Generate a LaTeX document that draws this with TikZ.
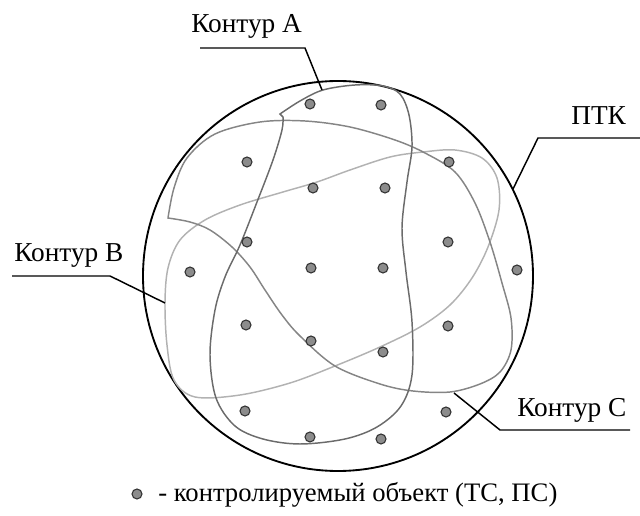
\documentclass[tikz,border=0pt]{standalone}
\usepackage{fontspec}
\setmainfont{Liberation Serif}
\begin{document}
\begin{tikzpicture}[x=0.75pt,y=-0.75pt,
  contA/.style={draw=black!58, line width=1.1pt},
  contB/.style={draw=black!30, line width=1.1pt},
  contC/.style={draw=black!48, line width=1.1pt},
  leader/.style={draw=black, line width=1.1pt},
  obj/.style={circle, fill=black!45, draw=black!80, line width=0.8pt, minimum size=7.5pt, inner sep=0pt},
  lbl/.style={anchor=base west, inner sep=0pt, font=\fontsize{20.5}{23}\selectfont},
  legtxt/.style={anchor=base west, inner sep=0pt, font=\fontsize{20}{23}\selectfont}]
\useasboundingbox (0,0) rectangle (640,516);

% big circle (PTK)
\node[circle, draw=black, line width=1.4pt, minimum size=292.5pt, inner sep=0pt] (ptk) at (338,276) {};

% Contour B (light)
\draw[contB] plot[smooth cycle, tension=0.55] coordinates {
 (165,303) (167,345) (174,380) (195,397) (240,395) (290,383) (335,366)
 (380,347) (420,327) (450,305) (472,278) (488,247) (499,210) (497,178)
 (482,158) (455,150) (423,152) (390,157) (350,170) (317,182) (283,192)
 (240,205) (205,220) (180,240) (168,268)};

% Contour C (medium)
\draw[contC] plot[smooth, tension=0.55] coordinates {
 (168,218) (174,188) (187,158) (215,134) (260,122) (305,121) (350,127)
 (395,140) (425,153) (455,172) (475,203) (490,242) (502,283) (511,318)
 (511,350) (500,372) (480,384) (450,392) (413,391) (380,384) (335,366)
 (300,336) (282,315) (265,290) (250,267) (232,247) (210,230) (190,222) (168,218)} -- cycle;

% Contour A (darker)
\draw[contA] plot[smooth, tension=0.55] coordinates {
 (280,114) (300,101) (323,90) (355,85) (383,86) (400,94) (409,115)
 (412,147) (407,182) (402,228) (406,272) (412,322) (412,375) (401,406)
 (377,427) (345,439) (300,444) (263,439) (235,426) (216,398) (210,355)
 (215,310) (225,277) (240,245) (257,202) (273,160) (282,130) (283,117)} -- cycle;

% controlled objects
\foreach \x/\y [count=\i] in {310/104, 381/105, 247/162, 449/162, 313/188, 385/188,
  247/242, 448/242, 190/272, 311/268, 383/268, 517/270, 246/325, 448/326,
  311/341, 383/352, 245/411, 446/412, 310/437, 381/439}
  \node[obj] (o\i) at (\x,\y) {};

% labels and leaders
\node[lbl] (labA) at (191,33) {Контур А};
\coordinate (a1) at (200,48); \coordinate (a2) at (305,48); \coordinate (a3) at (322,90);
\draw[leader] (a1) -- (a2) -- (a3);

\node[lbl] (labP) at (571,125) {ПТК};
\coordinate (p1) at (640,138); \coordinate (p2) at (538,138); \coordinate (p3) at (513,189);
\draw[leader] (p1) -- (p2) -- (p3);

\node[lbl] (labB) at (14,262) {Контур В};
\coordinate (b1) at (12,276); \coordinate (b2) at (110,276); \coordinate (b3) at (165,303);
\draw[leader] (b1) -- (b2) -- (b3);

\node[lbl] (labC) at (517,417) {Контур С};
\coordinate (c1) at (630,430); \coordinate (c2) at (500,430); \coordinate (c3) at (454,393);
\draw[leader] (c1) -- (c2) -- (c3);

% legend
\node[obj] (legdot) at (137,494) {};
\node[legtxt] (legtext) at (158,502) {- контролируемый объект (ТС, ПС)};
\end{tikzpicture}
\end{document}
